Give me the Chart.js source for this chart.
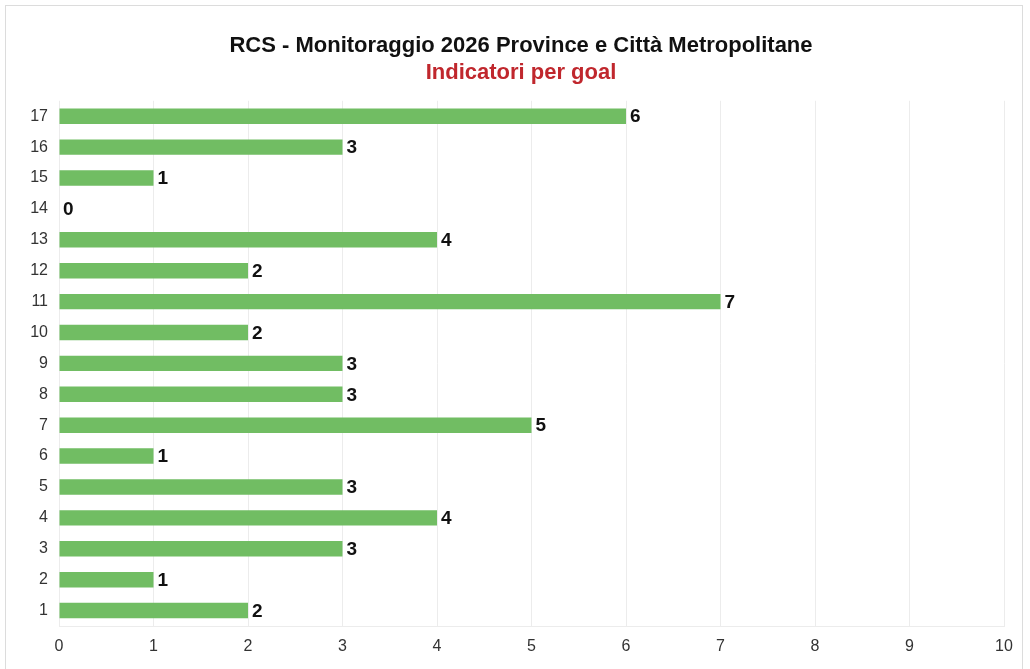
<!DOCTYPE html>
<html>
<head>
<meta charset="utf-8">
<script src="https://cdn.jsdelivr.net/npm/chart.js@4"></script>
<style>
    body { margin: 0; background: #fff; }
    #box { position: absolute; left: 5px; top: 5px; width: 1016px; height: 680px; border: 1px solid #dcdcdc; }
    #wrap { position: absolute; left: 0; top: 0; width: 1030px; height: 669px; }
</style>
</head>
<body>
<div id="box"></div>
<div id="wrap"><canvas id="myChart"></canvas></div>
<script>
// goal SDG e numero di indicatori
const goals = ["1","2","3","4","5","6","7","8","9","10","11","12","13","14","15","16","17"];
const indicatori = [2, 1, 3, 4, 3, 1, 5, 3, 3, 2, 7, 2, 4, 0, 1, 3, 6];
const xTicks = [0, 1, 2, 3, 4, 5, 6, 7, 8, 9, 10];

// etichette dei valori alla fine delle barre
const valueLabels = {
    id: 'valueLabels',
    afterDatasetsDraw(chart) {
        const ctx = chart.ctx;
        const meta = chart.getDatasetMeta(0);
        ctx.save();
        ctx.font = 'bold 19px "Liberation Sans", Arial, sans-serif';
        ctx.fillStyle = '#111';
        ctx.textAlign = 'left';
        ctx.textBaseline = 'middle';
        meta.data.forEach(function (bar, i) {
            ctx.fillText(String(indicatori[i]), bar.x + 4, bar.y + 1);
        });
        ctx.restore();
    }
};

var ctx = document.getElementById('myChart').getContext('2d');
var myChart = new Chart(ctx, {
    type: 'bar',
    data: {
        labels: goals,
        datasets: [{
            label: 'Indicatori',
            data: indicatori,
            backgroundColor: '#71bd63',
            barPercentage: 0.5,
            categoryPercentage: 1
        }]
    },
    options: {
        indexAxis: 'y',
        responsive: true,
        maintainAspectRatio: false,
        animation: false,
        // padding destro negativo per centrare il titolo come nell'originale
        layout: { padding: { left: 0, right: -12, top: 0, bottom: 0 } },
        plugins: {
            legend: { display: false },
            tooltip: { enabled: false },
            title: {
                display: true,
                text: 'RCS - Monitoraggio 2026 Province e Città Metropolitane',
                color: '#111',
                font: { family: '"Liberation Sans", Arial, sans-serif', size: 22, weight: 'bold' },
                padding: { top: 33, bottom: 0 }
            },
            subtitle: {
                display: true,
                text: 'Indicatori per goal',
                color: '#c0272d',
                font: { family: '"Liberation Sans", Arial, sans-serif', size: 22, weight: 'bold' },
                padding: { top: 0, bottom: 15 }
            }
        },
        scales: {
            x: {
                min: 0,
                max: 10,
                afterBuildTicks: function (scale) {
                    scale.ticks = xTicks.map(function (v) { return { value: v }; });
                },
                afterFit: function (scale) { scale.height = 43; },
                grid: { color: '#ececec', drawTicks: false },
                border: { color: '#ececec' },
                ticks: {
                    color: '#333',
                    padding: 11,
                    font: { family: '"Liberation Sans", Arial, sans-serif', size: 16 }
                }
            },
            y: {
                reverse: true,
                afterFit: function (scale) { scale.width = 59; },
                grid: { display: false, drawTicks: false },
                border: { display: false },
                ticks: {
                    color: '#333',
                    padding: 11,
                    font: { family: '"Liberation Sans", Arial, sans-serif', size: 16 }
                }
            },
            destra: {
                type: 'category',
                axis: 'y',
                position: 'right',
                afterFit: function (scale) { scale.width = 38; },
                grid: { display: false, drawTicks: false },
                border: { display: false },
                ticks: { display: false }
            }
        }
    },
    plugins: [valueLabels]
});
</script>
</body>
</html>
